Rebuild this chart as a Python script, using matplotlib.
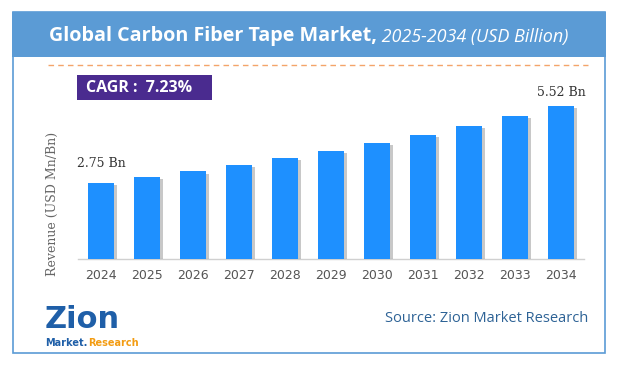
import matplotlib
matplotlib.use("Agg")
import matplotlib.pyplot as plt
from matplotlib.patches import Rectangle
import matplotlib.patheffects as pe

years = ["2024", "2025", "2026", "2027", "2028", "2029", "2030", "2031", "2032", "2033", "2034"]
revenue = [2.75, 2.95, 3.16, 3.39, 3.64, 3.90, 4.18, 4.48, 4.81, 5.15, 5.52]
title_main = "Global Carbon Fiber Tape Market,"
title_sub = " 2025-2034 (USD Billion)"
cagr_text = "CAGR :  7.23%"
ylabel = "Revenue (USD Mn/Bn)"
source = "Source: Zion Market Research"

W, H = 618, 365
fig = plt.figure(figsize=(W / 100, H / 100), dpi=100)
fig.patch.set_facecolor("white")

def fx(px):
    return px / W

def fy(py):
    return 1 - py / H

# outer frame and banner
frame_col = "#5B9BD5"
fig.patches.append(Rectangle((fx(12.5), fy(352.5)), fx(605) - fx(12.5), fy(12) - fy(352.5),
                             transform=fig.transFigure, fill=False, edgecolor=frame_col, lw=1.2))
fig.patches.append(Rectangle((fx(12), fy(57)), fx(605.5) - fx(12), fy(12) - fy(57),
                             transform=fig.transFigure, facecolor=frame_col, edgecolor="none"))

fig.canvas.draw()
r = fig.canvas.get_renderer()

# title (two parts)
fam = "Open Sans"
t1 = fig.text(0, fy(36), title_main, color="white", fontsize=14.2, fontweight="bold",
              family=fam, va="center", ha="left")
t2 = fig.text(0, fy(37), title_sub, color="white", fontsize=13, style="italic",
              family=fam, va="center", ha="left")
w1 = t1.get_window_extent(r).width
w2 = t2.get_window_extent(r).width
start = 309 - (w1 + w2) / 2
t1.set_x(fx(start))
t2.set_x(fx(start + w1))

# dashed orange line
fig.add_artist(plt.Line2D([fx(48), fx(588)], [fy(65), fy(65)], transform=fig.transFigure,
                          color="#F4A46A", lw=1.0, ls=(0, (4, 3))))

# CAGR box
fig.patches.append(Rectangle((fx(77), fy(100)), fx(212) - fx(77), fy(75) - fy(100),
                             transform=fig.transFigure, facecolor="#4A2B8F", edgecolor="none"))
fig.text(fx(139), fy(88), cagr_text, color="white", fontsize=11.5, fontweight="bold",
         family=fam, ha="center", va="center")

# bar axes
ax_bottom = fy(259)
ax = fig.add_axes([fx(78), ax_bottom, fx(584) - fx(78), 180 / H])
x = range(len(years))
bars = ax.bar(x, revenue, width=0.565, color="#1E90FF", zorder=3)
for b in bars:
    b.set_path_effects([pe.SimplePatchShadow(offset=(2.2, -1.5), shadow_rgbFace="#777777", alpha=0.4),
                        pe.Normal()])
ax.set_xlim(-0.5, 10.5)
ax.set_ylim(0, 6.5)
ax.set_yticks([])
ax.set_xticks(list(x))
ax.set_xticklabels(years, fontsize=9, color="#555555", family="DejaVu Sans")
ax.tick_params(axis="x", length=0, pad=7)
for s in ["top", "right", "left"]:
    ax.spines[s].set_visible(False)
ax.spines["bottom"].set_color("#D0D0D0")
ax.spines["bottom"].set_linewidth(1.0)
ax.set_facecolor("none")

ax.annotate(f"{revenue[0]:.2f} Bn", (0, revenue[0]), xytext=(0, 9), textcoords="offset points",
            ha="center", va="bottom", fontsize=9, color="#333333", family="DejaVu Serif")
ax.annotate(f"{revenue[-1]:.2f} Bn", (10, revenue[-1]), xytext=(0, 5), textcoords="offset points",
            ha="center", va="bottom", fontsize=9, color="#333333", family="DejaVu Serif")

fig.text(fx(52), fy(204), ylabel, rotation=90, fontsize=9, color="#666666",
         family="DejaVu Serif", ha="center", va="center")

# source
fig.text(fx(588), fy(318), source, fontsize=10.5, color="#2E6396", family=fam,
         ha="right", va="center")

# logo (text-based)
fig.text(fx(45), fy(319), "Zion", fontsize=22, fontweight="bold", color="#1F5FA8",
         family="DejaVu Sans", ha="left", va="center")
m = fig.text(fx(45), fy(343), "Market.", fontsize=7, fontweight="bold", color="#1F5FA8",
             family="DejaVu Sans", ha="left", va="center")
wm = m.get_window_extent(r).width
fig.text(fx(45 + wm + 0.5), fy(343), "Research", fontsize=7, fontweight="bold", color="#F39C12",
         family="DejaVu Sans", ha="left", va="center")

fig.savefig("out.png", dpi=100)
